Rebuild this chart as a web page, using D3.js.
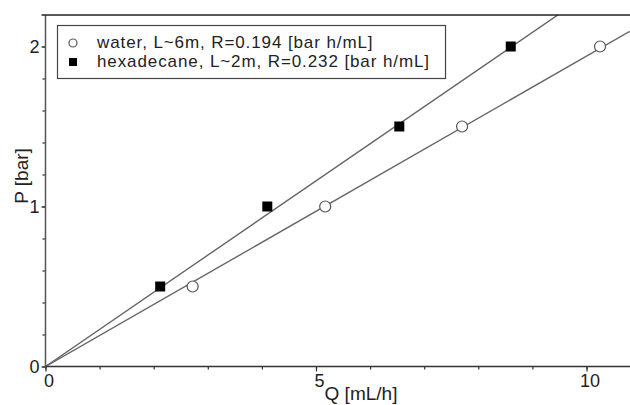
<!DOCTYPE html>
<html>
<head>
<meta charset="utf-8">
<script src="https://cdn.jsdelivr.net/npm/d3@7"></script>
<style>
  body { margin: 0; background: #fff; }
  svg text { font-family: Arial, "Liberation Sans", sans-serif; fill: #222; }
</style>
</head>
<body>
<svg id="chart" width="630" height="405"></svg>
<script>
// water, L~6m
const waterQ = [2.72, 5.17, 7.70, 10.25]
const waterP = [0.5, 1.0, 1.5, 2.0]
const waterR = 0.194

// hexadecane, L~2m
const hexQ = [2.12, 4.10, 6.54, 8.60]
const hexP = [0.5, 1.0, 1.5, 2.0]
const hexR = 0.232

const xTicks = [0, 5, 10]
const yTicks = [0, 1, 2]
const legendLabels = [
    'water, L~6m, R=0.194 [bar h/mL]',
    'hexadecane, L~2m, R=0.232 [bar h/mL]'
]

let svg = d3.select('#chart'),
    plotLeft = 45.5,
    plotRight = 630,
    plotTop = 15,
    plotBottom = 366.5

let x = d3.scaleLinear().domain([0, 10.8]).range([plotLeft, plotLeft + 10.8 * 54.1])
let y = d3.scaleLinear().domain([0, 2.19]).range([plotBottom, plotBottom - 2.19 * 160])

// clip so fit lines stop at the frame
svg.append('clipPath').attr('id', 'clip')
    .append('rect')
    .attr('x', plotLeft).attr('y', plotTop)
    .attr('width', plotRight - plotLeft).attr('height', plotBottom - plotTop)

let plot = svg.append('g')

// Fit lines through origin
let fits = [waterR, hexR]
plot.selectAll('.fit')
    .data(fits)
    .enter().append('line')
    .attr('class', 'fit')
    .attr('clip-path', 'url(#clip)')
    .attr('x1', x(0)).attr('y1', y(0))
    .attr('x2', x(10.8)).attr('y2', function (r) { return y(r * 10.8) })
    .style('stroke', '#666')
    .attr('stroke-width', 1.4)

// Axes
let xAxis = d3.axisBottom(x).tickValues(xTicks).tickFormat(d3.format('d')).tickSize(5).tickPadding(3)
let xMinor = d3.axisBottom(x).tickValues(d3.range(0, 11, 1)).tickSize(3).tickFormat('')
let yAxis = d3.axisLeft(y).tickValues(yTicks).tickFormat(d3.format('d')).tickSize(4).tickPadding(2)
let yMinor = d3.axisLeft(y).tickValues(d3.range(0, 2.19, 0.2)).tickSize(3).tickFormat('')

function styleAxis(g) {
    g.select('.domain').remove()
    g.selectAll('line').style('stroke', '#333').attr('stroke-width', 1.2)
    g.selectAll('text').style('font-size', '18px').style('fill', '#222')
}

svg.append('g').attr('transform', 'translate(0,' + plotBottom + ')').call(xMinor).call(styleAxis)
svg.append('g').attr('transform', 'translate(0,' + plotBottom + ')').call(xAxis).call(styleAxis)
    .selectAll('text').attr('dx', 3)
svg.append('g').attr('transform', 'translate(' + plotLeft + ',0)').call(yMinor).call(styleAxis)
svg.append('g').attr('transform', 'translate(' + plotLeft + ',0)').call(yAxis).call(styleAxis)
    .selectAll('text').attr('dy', '0.35em')

// Frame lines
svg.append('line')
    .attr('x1', plotLeft).attr('x2', plotRight).attr('y1', plotBottom).attr('y2', plotBottom)
    .style('stroke', '#333').attr('stroke-width', 1.5)
svg.append('line')
    .attr('x1', plotLeft).attr('x2', plotLeft).attr('y1', plotTop).attr('y2', plotBottom)
    .style('stroke', '#555').attr('stroke-width', 1.5)
svg.append('line')
    .attr('x1', plotLeft - 4).attr('x2', plotRight).attr('y1', plotTop).attr('y2', plotTop)
    .style('stroke', '#222').attr('stroke-width', 1.3)

// Points
let water = waterQ.map(function (q, i) { return { q: q, p: waterP[i] } })
let hex = hexQ.map(function (q, i) { return { q: q, p: hexP[i] } })

plot.selectAll('.water')
    .data(water)
    .enter().append('circle')
    .attr('class', 'water')
    .attr('cx', function (d) { return x(d.q) })
    .attr('cy', function (d) { return y(d.p) })
    .attr('r', 5.5)
    .style('fill', '#fff')
    .style('stroke', '#555')
    .attr('stroke-width', 1.2)

plot.selectAll('.hex')
    .data(hex)
    .enter().append('rect')
    .attr('class', 'hex')
    .attr('x', function (d) { return x(d.q) - 5 })
    .attr('y', function (d) { return y(d.p) - 5 })
    .attr('width', 10)
    .attr('height', 10)
    .style('fill', '#000')

// Axis titles
svg.append('text')
    .attr('x', 361).attr('y', 400)
    .attr('text-anchor', 'middle')
    .style('font-size', '19px')
    .text('Q [mL/h]')

svg.append('text')
    .attr('transform', 'translate(28,176) rotate(-90)')
    .attr('text-anchor', 'middle')
    .style('font-size', '19px')
    .text('P [bar]')

// Legend
let legend = svg.append('g')
legend.append('rect')
    .attr('x', 57.5).attr('y', 25.5)
    .attr('width', 388).attr('height', 53)
    .style('fill', '#fff')
    .style('stroke', '#444')
    .attr('stroke-width', 1.2)

legend.append('circle')
    .attr('cx', 73).attr('cy', 43).attr('r', 4)
    .style('fill', '#fff').style('stroke', '#555').attr('stroke-width', 1.2)
legend.append('rect')
    .attr('x', 69).attr('y', 58).attr('width', 8).attr('height', 8)
    .style('fill', '#000')

legend.selectAll('.legend-text')
    .data(legendLabels)
    .enter().append('text')
    .attr('class', 'legend-text')
    .attr('x', 97)
    .attr('y', function (d, i) { return 48 + i * 19 })
    .style('font-size', '17px')
    .style('letter-spacing', '0.9px')
    .text(function (d) { return d })
</script>
</body>
</html>
